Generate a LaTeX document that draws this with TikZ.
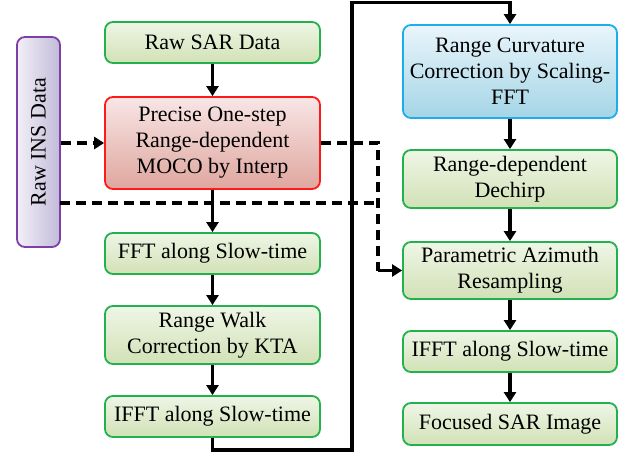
\documentclass[tikz,border=0pt]{standalone}
\usepackage{fontspec}
\setmainfont{Liberation Serif}
\usetikzlibrary{arrows.meta}
\definecolor{gborder}{HTML}{22B14C}
\definecolor{gtop}{HTML}{EEF6E6}
\definecolor{gbot}{HTML}{D2E1B6}
\definecolor{rborder}{HTML}{FF1A1A}
\definecolor{rtop}{HTML}{F8E6E6}
\definecolor{rbot}{HTML}{DFA69E}
\definecolor{bborder}{HTML}{1AAEEA}
\definecolor{btop}{HTML}{EAF5FB}
\definecolor{bbot}{HTML}{A4D5E6}
\definecolor{pborder}{HTML}{7F3FA8}
\definecolor{pleft}{HTML}{F2F0F7}
\definecolor{pright}{HTML}{C2BAD8}
\tikzset{
  box/.style={draw, rounded corners=8pt, line width=1.8pt, align=center, inner sep=0pt,
    font=\fontsize{22}{26}\selectfont},
  gbox/.style={box, draw=gborder, top color=gtop, bottom color=gbot},
  rbox/.style={box, draw=rborder, top color=rtop, bottom color=rbot},
  bbox/.style={box, draw=bborder, top color=btop, bottom color=bbot},
  pbox/.style={box, draw=pborder, left color=pleft, right color=pright},
  tip/.style={-{Triangle[length=10pt,width=12pt]}},
  flow/.style={line width=3.3pt, tip},
  solidline/.style={line width=3.3pt},
  dashline/.style={line width=3.3pt, dash pattern=on 10pt off 6pt},
}
\begin{document}
\begin{tikzpicture}[x=1pt,y=-1pt]
\useasboundingbox (0,0) rectangle (632,455);
% left column
\node[gbox, minimum width=215pt, minimum height=41pt] (raw) at (212.5,42.5) {Raw SAR Data};
\node[rbox, minimum width=215pt, minimum height=92pt] (moco) at (212.5,143) {Precise One-step\\Range-dependent\\MOCO by Interp};
\node[gbox, minimum width=215pt, minimum height=41pt] (fft) at (212.5,253.5) {FFT along Slow-time};
\node[gbox, minimum width=215pt, minimum height=58pt] (walk) at (212.5,335) {Range Walk\\Correction by KTA};
\node[gbox, minimum width=215pt, minimum height=41pt] (ifft1) at (212.5,416.5) {IFFT along Slow-time};
% INS
\node[pbox, minimum width=43pt, minimum height=210pt] (ins) at (38.5,142) {};
\node[rotate=90, font=\fontsize{22}{26}\selectfont] (inslabel) at (ins.center) {Raw INS Data};
% right column
\node[bbox, minimum width=214pt, minimum height=93pt] (curv) at (510,71.5) {Range Curvature\\Correction by Scaling-\\FFT};
\node[gbox, minimum width=214pt, minimum height=58pt] (dechirp) at (510,179) {Range-dependent\\Dechirp};
\node[gbox, minimum width=214pt, minimum height=57pt] (param) at (510,270.5) {Parametric Azimuth\\Resampling};
\node[gbox, minimum width=214pt, minimum height=41pt] (ifft2) at (510,351.5) {IFFT along Slow-time};
\node[gbox, minimum width=214pt, minimum height=42pt] (focus) at (510,424) {Focused SAR Image};
% coordinates
\coordinate (c1) at (352,450);
\coordinate (c2) at (352,2.5);
\coordinate (d1) at (378,143);
\coordinate (d2) at (378,203);
\coordinate (d3) at (378,270.5);
\coordinate (e1) at (60,203);
% dashed INS lines
\draw[dashline] (e1) -- (d2);
\draw[dashline] (moco.east) -- (d1) -- (d3);
\draw[dashline, tip] (ins.east |- moco.west) -- (moco.west);
\draw[solidline, tip] (d3) -- (param.west);
% solid flow
\draw[flow] (raw) -- (moco);
\draw[flow] (moco) -- (fft);
\draw[flow] (fft) -- (walk);
\draw[flow] (walk) -- (ifft1);
\draw[solidline, tip] (ifft1.south) |- (c1) -- (c2) -| (curv.north);
\draw[flow] (curv) -- (dechirp);
\draw[flow] (dechirp) -- (param);
\draw[flow] (param) -- (ifft2);
\draw[flow] (ifft2) -- (focus);
\end{tikzpicture}
\end{document}
